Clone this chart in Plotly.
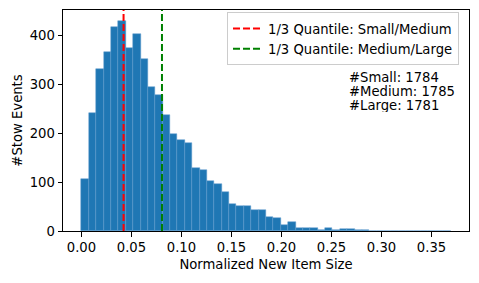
import numpy as np
import plotly.graph_objects as go

# ---- data ----
bin_min = 0.0
bin_max = 0.369
counts = [106, 241, 331, 366, 418, 431, 375, 404, 352, 294,
          278, 237, 199, 186, 180, 130, 125, 102, 97, 79,
          56, 51, 52, 44, 42, 28, 26, 13, 19, 7,
          6, 7, 3, 7, 2, 4, 4, 2, 2, 1,
          1, 0, 0, 0, 0, 1, 0, 0, 0, 1]
q_small_medium = 0.0421
q_medium_large = 0.0805
group_labels = ["#Small: 1784", "#Medium: 1785", "#Large: 1781"]
x_ticks = [0.00, 0.05, 0.10, 0.15, 0.20, 0.25, 0.30, 0.35]
y_ticks = [0, 100, 200, 300, 400]

edges = np.linspace(bin_min, bin_max, len(counts) + 1)
centers = (edges[:-1] + edges[1:]) / 2
width = edges[1] - edges[0]

ymax = max(counts) * 1.05
span = bin_max - bin_min
xr = [bin_min - 0.05 * span, bin_max + 0.05 * span]

FONT = "DejaVu Sans"
FS = 13.2
L, R, T, B = 63, 10, 9.5, 52
PW = 479 - L - R
PH = 283 - T - B

fig = go.Figure()
fig.add_trace(go.Bar(
    x=centers, y=counts, width=width,
    marker=dict(color="#1f77b4", line=dict(color="rgba(95,152,205,1)", width=0.5)),
    showlegend=False, hoverinfo="skip"))

fig.add_trace(go.Scatter(
    x=[q_small_medium, q_small_medium], y=[0, ymax], mode="lines",
    line=dict(color="red", width=2, dash="7px,3px"),
    name="1/3 Quantile: Small/Medium"))
fig.add_trace(go.Scatter(
    x=[q_medium_large, q_medium_large], y=[0, ymax], mode="lines",
    line=dict(color="green", width=2, dash="7px,3px"),
    name="1/3 Quantile: Medium/Large"))

for i, t in enumerate(group_labels):
    fig.add_annotation(
        xref="paper", yref="paper", x=(347 - L) / PW, y=(283 - B - 76.7 - 14 * i) / PH,
        xanchor="left", yanchor="middle", height=14, text=t, showarrow=False,
        font=dict(family=FONT, size=FS, color="black"))

fig.update_layout(
    width=479, height=283,
    margin=dict(l=L, r=R, t=T, b=B),
    plot_bgcolor="white", paper_bgcolor="white",
    bargap=0,
    font=dict(family=FONT, size=FS, color="black"),
    legend=dict(
        x=(227 - L) / PW, y=(283 - B - 12) / PH, xanchor="left", yanchor="top",
        bgcolor="rgba(255,255,255,0.8)", bordercolor="#cccccc", borderwidth=1,
        font=dict(family=FONT, size=FS, color="black"),
        itemwidth=30, tracegroupgap=0),
    xaxis=dict(
        range=xr, tickvals=x_ticks, tickformat=".2f", automargin=False,
        showline=True, linecolor="black", linewidth=1, mirror=True,
        ticks="outside", ticklen=4.5, tickcolor="black", showgrid=False, zeroline=False,
        title=dict(text="Normalized New Item Size", standoff=5,
                   font=dict(family=FONT, size=FS, color="black"))),
    yaxis=dict(
        range=[0, ymax], tickvals=y_ticks, automargin=False,
        showline=True, linecolor="black", linewidth=1, mirror=True,
        ticks="outside", ticklen=4.5, tickcolor="black", showgrid=False, zeroline=False,
        title=dict(text="#Stow Events", standoff=4,
                   font=dict(family=FONT, size=FS, color="black"))),
)

fig.write_html("out.html", config={"displayModeBar": False},
               post_script="document.body.style.margin='0';document.body.style.overflow='hidden';")
